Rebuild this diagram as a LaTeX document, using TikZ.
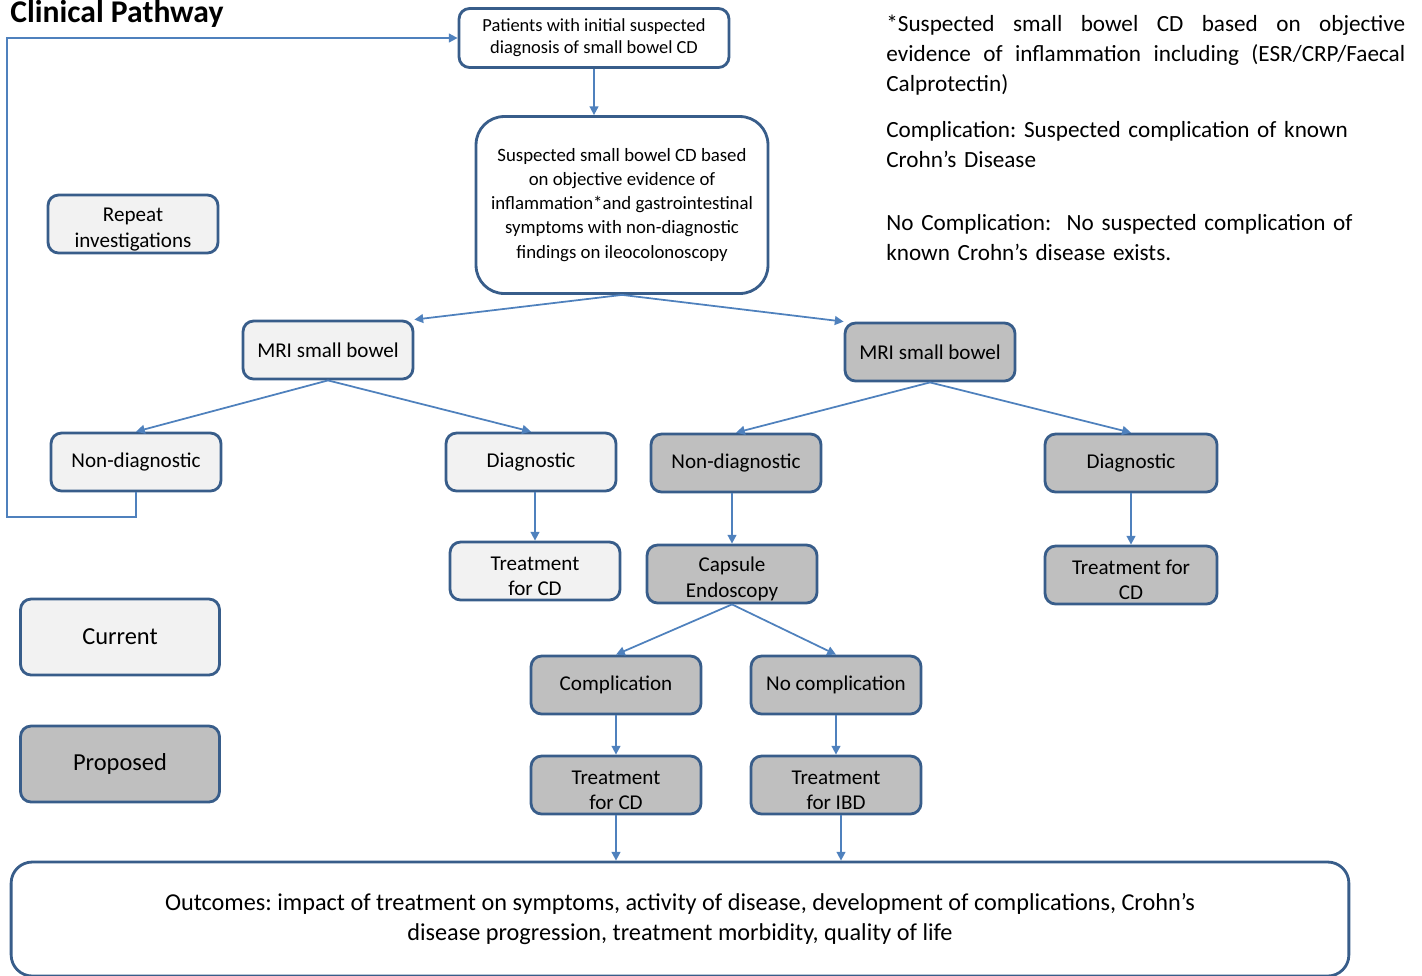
\documentclass[tikz,border=0pt]{standalone}
\usepackage{fontspec}
\setmainfont{Carlito}
\usetikzlibrary{positioning,arrows.meta}
\definecolor{boxline}{RGB}{56,93,138}
\definecolor{arrline}{RGB}{79,129,189}
\definecolor{curfill}{RGB}{242,242,242}
\definecolor{propfill}{RGB}{191,191,191}
\tikzset{
  box/.style={draw=boxline,line width=1.6pt,rounded corners=6pt,minimum width=3.4cm,
    minimum height=1.16cm,align=center,inner sep=2pt,font=\fontsize{12}{14.5}\selectfont},
  current/.style={box,fill=curfill},
  proposed/.style={box,fill=propfill},
  lowtext/.style={text height=28.5pt,inner ysep=0pt},
  note/.style={anchor=base west,inner sep=0pt,text width=10.38cm,font=\fontsize{13.2}{17.3}\selectfont},
  arr/.style={draw=arrline,line width=1pt,-{Triangle[length=5pt,width=5pt]}},
}
\begin{document}
\frenchspacing
\begin{tikzpicture}[x=0.02cm,y=-0.02cm]
\useasboundingbox (0,0) rectangle (1422,975);

\node[anchor=base west,inner sep=0pt,font={\fontsize{18}{20}\selectfont\bfseries}] (title) at (10,22) {Clinical Pathway};

\node[box,fill=white,minimum width=5.4cm,minimum height=1.18cm,font=\fontsize{10.5}{12.5}\selectfont] (start) at (594,38)
  {Patients with initial suspected\\diagnosis of small bowel CD};
\node[box,fill=white,minimum width=5.84cm,minimum height=3.54cm,rounded corners=16pt,font=\fontsize{10.7}{13.7}\selectfont] (susp) at (622,205)
  {Suspected small bowel CD based\\on objective evidence of\\inflammation*and gastrointestinal\\symptoms with non-diagnostic\\findings on ileocolonoscopy};

\node[current,lowtext] (repeat) at (133,224) {Repeat\\investigations};
\node[current] (mriA) at (328,350) {MRI small bowel};
\node[proposed] (mriB) at (930,352) {MRI small bowel};
\node[current] (nondiagA) at (136,462) {Non-diagnostic};
\node[current] (diagA) at (531,462) {Diagnostic};
\node[proposed] (nondiagB) at (736,463) {Non-diagnostic};
\node[proposed,minimum width=3.44cm] (diagB) at (1131,463) {Diagnostic};
\node[current,lowtext] (treatA) at (535,571) {Treatment\\for CD};
\node[proposed,lowtext] (capsule) at (732,574) {Capsule\\Endoscopy};
\node[proposed,lowtext,minimum width=3.44cm] (treatB) at (1131,575) {Treatment for\\CD};
\node[proposed] (compl) at (616,685) {Complication};
\node[proposed] (nocompl) at (836,685) {No complication};
\node[proposed,lowtext] (treatC) at (616,785) {Treatment\\for CD};
\node[proposed,lowtext] (treatIBD) at (836,785) {Treatment\\for IBD};

% legend
\node[current,minimum width=3.98cm,minimum height=1.52cm,font=\fontsize{13.9}{16}\selectfont] (cur) at (120,637) {Current};
\node[proposed,minimum width=3.98cm,minimum height=1.52cm,font=\fontsize{13.9}{16}\selectfont] (prop) at (120,764) {Proposed};

\node[box,fill=white,minimum width=26.76cm,minimum height=2.28cm,rounded corners=12pt,font=\fontsize{13.8}{16.6}\selectfont] (outcome) at (680,919)
  {Outcomes: impact of treatment on symptoms, activity of disease, development of complications, Crohn’s\\disease progression, treatment morbidity, quality of life};

% notes
\node[note,align=justify] (note1) at (886,31) {*Suspected small bowel CD based on objective\linebreak evidence of inflammation including (ESR/CRP/Faecal\linebreak Calprotectin)};
\node[note,align=left] (note2) at (886,137) {Complication: Suspected complication of known\\Crohn’s Disease};
\node[note,align=left] (note3) at (886,230) {No Complication:\ \ No suspected complication of\\known Crohn’s disease exists.};

% connectors
\coordinate (loop) at (7,517);
\draw[arr] (nondiagA.south) |- (loop) |- (start.west);
\draw[arr] (start.south) -- (start.south |- susp.north);
\draw[arr] (susp.south) -- (mriA.north east);
\draw[arr] (susp.south) -- (mriB.north west);
\draw[arr] (mriA.south) -- (nondiagA.north);
\draw[arr] (mriA.south) -- (diagA.north);
\draw[arr] (mriB.south) -- (nondiagB.north);
\draw[arr] (mriB.south) -- (diagB.north);
\draw[arr] (treatA.north |- diagA.south) -- (treatA.north);
\draw[arr] (nondiagB.south -| capsule.north) -- (capsule.north);
\draw[arr] (diagB) -- (treatB);
\draw[arr] (capsule.south) -- (compl.north);
\draw[arr] (capsule.south) -- (nocompl.north);
\draw[arr] (compl) -- (treatC);
\draw[arr] (nocompl) -- (treatIBD);
\draw[arr] (treatC.south) -- (treatC.south |- outcome.north);
\draw[arr] ([xshift=0.1cm]treatIBD.south) -- ([xshift=0.1cm]treatIBD.south |- outcome.north);

\end{tikzpicture}
\end{document}
